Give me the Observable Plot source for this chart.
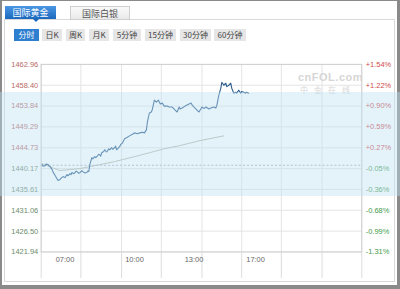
<!DOCTYPE html>
<html>
<head>
<meta charset="utf-8">
<script src="https://cdn.jsdelivr.net/npm/d3@7"></script>
<script src="https://cdn.jsdelivr.net/npm/@observablehq/plot@0.6"></script>
<style>
  html, body { margin: 0; padding: 0; background: #fff; }
  body { width: 400px; height: 289px; overflow: hidden; font-family: "Liberation Sans", Arial, "Noto Sans CJK SC", sans-serif; }
  #wrap { position: relative; width: 400px; height: 289px; box-sizing: border-box;
          border-top: 1px solid #8a8a8a; border-left: 2px solid #8a8a8a; border-right: 3px solid #8a8a8a; border-bottom: 4px solid #8a8a8a; }
  .abs { position: absolute; }
  #panel { left: 2px; top: 18px; width: 391px; height: 263px; border: 1px solid #d9d9d9; box-sizing: border-box; }
  .tab { top: 5px; height: 13px; font-size: 9px; line-height: 13px; text-align: center; font-family: "Noto Sans CJK SC", sans-serif; }
  #tab1 { left: 3px; width: 51px; color: #fff; background: linear-gradient(#4a97e4, #1c68bd); }
  #tab1:after { content: ""; position: absolute; left: 28px; top: 13px; border-left: 3px solid transparent; border-right: 3px solid transparent; border-top: 3px solid #1c68bd; }
  #tab2 { left: 68px; width: 60px; color: #555; background: linear-gradient(#fafafa, #e9e9e9); border: 1px solid #cfcfcf; box-sizing: border-box; height: 14px; }
  .btn { top: 28px; height: 12px; font-size: 8px; line-height: 12px; text-align: center; color: #444; background: #e6e6e6; font-family: "Noto Sans CJK SC", sans-serif; }
  .btn.on { background: #2f7fd0; color: #fff; }
  #band { left: -2px; top: 91px; width: 400px; height: 104px; background: rgba(190, 224, 244, 0.42); pointer-events: none; }
  #chart { left: -2px; top: 49px; }
  .wm { color: #d6d6d6; font-weight: bold; }
</style>
</head>
<body>
<div id="wrap">
  <div id="panel" class="abs"></div>
  <div id="tab1" class="abs tab">国际黄金</div>
  <div id="tab2" class="abs tab">国际白银</div>
  <div id="btns"></div>
  <div id="chart" class="abs"></div>
  <div class="abs wm" style="left:296px;top:70px;font-size:11px;letter-spacing:0.5px;">cnFOL.com</div>
  <div class="abs wm" style="left:298px;top:83px;font-size:8px;letter-spacing:6px;font-family:'Noto Sans CJK SC';font-weight:normal;">中金在线</div>
  <div id="band" class="abs"></div>
</div>
<script>
// ---- data ----
const buttons = ["分时", "日K", "周K", "月K", "5分钟", "15分钟", "30分钟", "60分钟"];
const buttonLeft = [12, 40, 64, 87, 111, 143, 178, 212];
const buttonWidth = [25, 20, 19, 20, 28, 31, 31, 32];

const priceT = [1,2,4,5,7,8,9,11,12,14,17,19,20,22,24,26,27,29,30,31,33,34,35,36,38,39,41,42,44,46,47,48,49,51,52,54,55,57,58,59,60,61,63,64,66,67,68,69,71,72,74,75,76,77,79,80,82,84,86,89,92,94,97,99,102,104,106,107,109,111,112,114,116,118,120,122,124,127,129,132,135,137,139,140,142,145,147,149,151,152,154,157,159,162,164,166,169,171,174,176,177,179,181,182,184,186,187,189,191,192,194,196,197,199,201,202,204,206,207,209];
const priceV = [1441.04,1440.70,1440.82,1441.15,1441.04,1440.75,1440.61,1439.95,1439.40,1438.65,1437.57,1437.78,1438.10,1438.43,1438.20,1438.87,1438.60,1439.09,1438.85,1439.30,1439.05,1439.30,1439.60,1439.52,1439.15,1439.30,1439.70,1439.52,1439.20,1439.30,1439.65,1439.52,1441.04,1442.56,1442.30,1442.78,1442.55,1442.99,1443.30,1443.21,1442.90,1443.64,1443.90,1444.29,1443.80,1444.08,1444.50,1444.29,1444.73,1444.40,1444.73,1445.10,1444.29,1444.50,1444.95,1445.40,1445.81,1446.68,1446.90,1447.33,1447.70,1447.98,1447.80,1447.98,1448.10,1447.98,1448.64,1450.37,1452.33,1452.54,1453.10,1455.15,1454.71,1455.15,1454.28,1454.50,1453.84,1453.84,1453.63,1453.63,1452.98,1452.54,1453.63,1453.20,1453.41,1453.84,1454.06,1454.28,1454.50,1454.10,1453.63,1452.98,1452.54,1453.63,1453.30,1453.63,1453.19,1453.41,1453.63,1453.41,1454.06,1456.23,1457.75,1459.05,1458.40,1458.84,1458.10,1458.40,1458.84,1457.75,1456.67,1456.88,1456.67,1457.32,1456.67,1457.00,1456.88,1456.67,1456.88,1456.67];

const avgT = [1,11,19,29,39,49,59,74,94,109,124,139,159,174,184];
const avgV = [1441.26,1440.39,1439.74,1439.95,1440.17,1440.61,1441.04,1441.70,1442.78,1443.64,1444.51,1445.16,1446.25,1446.90,1447.33];

const prevClose = 1440.90;
const yTicks = [1421.94, 1426.50, 1431.06, 1435.61, 1440.17, 1444.73, 1449.29, 1453.84, 1458.40, 1462.96];
const yLabels = ["1421.94","1426.50","1431.06","1435.61","1440.17","1444.73","1449.29","1453.84","1458.40","1462.96"];
const pctLabels = ["-1.31%","-0.99%","-0.68%","-0.36%","-0.05%","+0.27%","+0.59%","+0.90%","+1.22%","+1.54%"];
const xTickPos = [24, 94, 154, 216];
const xTickLabels = ["07:00", "10:00", "13:00", "17:00"];
const gridX = [0, 40, 81, 121, 162, 202, 242, 283, 323];

// ---- buttons ----
const btns = document.getElementById("btns");
buttons.forEach((b, i) => {
  const el = document.createElement("div");
  el.className = "abs btn" + (i === 0 ? " on" : "");
  el.style.left = buttonLeft[i] + "px";
  el.style.width = buttonWidth[i] + "px";
  el.textContent = b;
  btns.appendChild(el);
});

// ---- chart ----
const price = priceT.map((t, i) => ({t, v: priceV[i]}));
const avg = avgT.map((t, i) => ({t, v: avgV[i]}));
const yl = yTicks.map((v, i) => ({v, label: yLabels[i], pct: pctLabels[i], up: v > prevClose}));
const xl = xTickPos.map((p, i) => ({p, label: xTickLabels[i]}));

const chart = Plot.plot({
  width: 400,
  height: 230,
  marginTop: 14,
  marginBottom: 27,
  marginLeft: 41,
  marginRight: 36,
  x: {domain: [0, 323], axis: null},
  y: {domain: [1421.94, 1462.96], axis: null},
  style: {fontFamily: "'Liberation Sans', Arial, sans-serif", fontSize: "7.5px", background: "transparent"},
  marks: [
    Plot.ruleY(yTicks, {stroke: "#e4e4e4"}),
    Plot.ruleX(gridX, {stroke: "#e4e4e4"}),
    Plot.ruleX(gridX, {y: 1421.94, stroke: "#dcdcdc", insetTop: -3}),
    Plot.frame({stroke: "#cfcfcf"}),
    Plot.ruleY([prevClose], {stroke: "#9fb0bc", strokeDasharray: "2,2"}),
    Plot.line(avg, {x: "t", y: "v", stroke: "#b3bba9", strokeWidth: 1}),
    Plot.line(price, {x: "t", y: "v", stroke: "#2b5d8c", strokeWidth: 1.1}),
    Plot.text(yl.filter(d => d.up), {y: "v", text: "label", frameAnchor: "left", textAnchor: "end", dx: -3, fill: "#b86a66"}),
    Plot.text(yl.filter(d => !d.up), {y: "v", text: "label", frameAnchor: "left", textAnchor: "end", dx: -3, fill: "#6c8c6c"}),
    Plot.text(yl.filter(d => d.pct.startsWith("+")), {y: "v", text: "pct", frameAnchor: "right", textAnchor: "start", dx: 4, fill: "#d04a4a"}),
    Plot.text(yl.filter(d => d.pct.startsWith("-")), {y: "v", text: "pct", frameAnchor: "right", textAnchor: "start", dx: 4, fill: "#3f9a4a"}),
    Plot.text(xl, {x: "p", text: "label", frameAnchor: "bottom", lineAnchor: "top", dy: 5, fill: "#666"})
  ]
});
document.getElementById("chart").appendChild(chart);
</script>
</body>
</html>
